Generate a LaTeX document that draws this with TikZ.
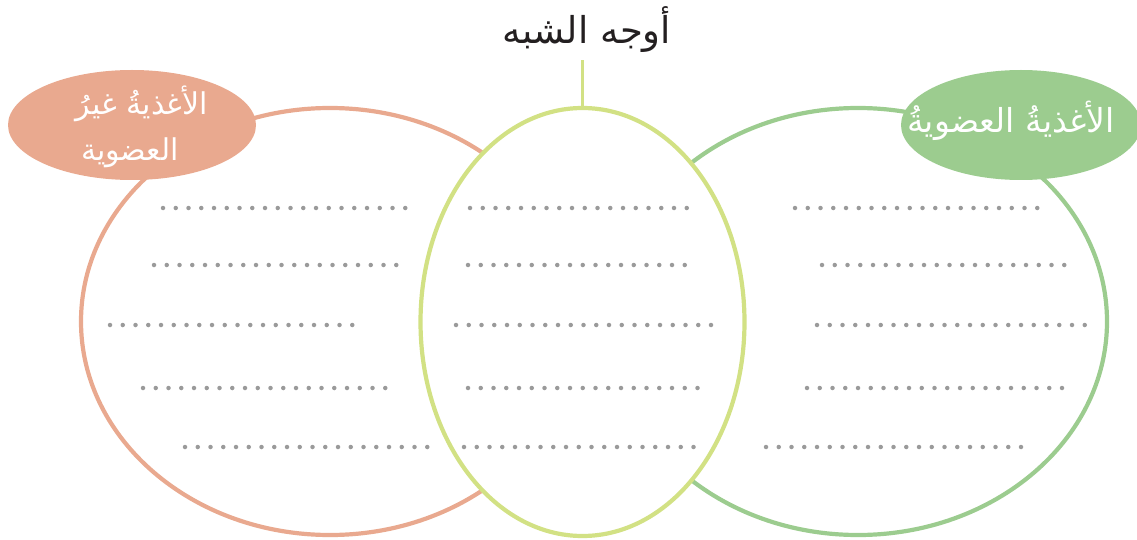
\documentclass[tikz,border=0pt]{standalone}
\usepackage{fontspec}
\usetikzlibrary{shapes.geometric}
\newfontfamily\arabicfont[Script=Arabic]{DejaVu Sans}
\TeXXeTstate=1
\definecolor{salmon}{HTML}{E9A98F}
\definecolor{leaf}{HTML}{9CCC8F}
\definecolor{lime}{HTML}{D2E184}
\definecolor{dotgray}{HTML}{9A9A9A}
\definecolor{ink}{HTML}{231F20}
\tikzset{
  bigell/.style={ellipse, inner sep=0pt},
  rim/.style={line width=4.2pt},
  labell/.style={ellipse, inner sep=0pt},
  labtext/.style={text=white, inner sep=0pt},
  dotrow/.style={dotgray, line width=4.5pt, line cap=round, dash pattern=on 0pt off 12.75pt}
}
\begin{document}
\begin{tikzpicture}[x=1pt,y=-1pt]
\useasboundingbox (0,0) rectangle (1137,540);
\node[bigell, minimum width=498pt, minimum height=427pt] (L) at (330,321.5) {};
\draw[rim, salmon] (L.center) ellipse [x radius=249pt, y radius=213.5pt];
\node[bigell, minimum width=498pt, minimum height=427pt] (R) at (858,321.5) {};
\draw[rim, leaf] (R.center) ellipse [x radius=249pt, y radius=213.5pt];
\node[labell, fill=salmon, minimum width=248pt, minimum height=110pt] (LL) at (132,125) {};
\node[labtext, font=\arabicfont\fontsize{30}{36}\selectfont] (LL1) at (142,104) {\beginR الأغذيةُ غيرُ\endR};
\node[labtext, font=\arabicfont\fontsize{30}{36}\selectfont] (LL2) at (130,153) {\beginR العضوية\endR};
\node[labell, fill=leaf, minimum width=240pt, minimum height=110pt] (RL) at (1021,125) {};
\node[labtext, font=\arabicfont\fontsize{33}{40}\selectfont] (RL1) at (1011,121) {\beginR الأغذيةُ العضويةُ\endR};
\node[bigell, minimum width=324pt, minimum height=428pt] (M) at (582.5,322) {};
\draw[rim, lime, fill=white] (M.center) ellipse [x radius=162pt, y radius=214pt];
\node[text=ink, font=\arabicfont\fontsize{37}{42}\selectfont] (T) at (587,30) {\beginR أوجه الشبه\endR};
\coordinate (Ttop) at (582.5,60);
\draw[lime, line width=3pt] (M.north) -- (Ttop);
% dotted writing lines
\draw[dotrow] (163,208) -- (410,208);
\draw[dotrow] (154,265) -- (401,265);
\draw[dotrow] (110,325) -- (357,325);
\draw[dotrow] (143,388) -- (390,388);
\draw[dotrow] (185,447) -- (432,447);
\draw[dotrow] (470,208) -- (691,208);
\draw[dotrow] (468,265) -- (689,265);
\draw[dotrow] (456,325) -- (716,325);
\draw[dotrow] (468,388) -- (703,388);
\draw[dotrow] (464,447) -- (698,447);
\draw[dotrow] (795,208) -- (1042,208);
\draw[dotrow] (822,265) -- (1069,265);
\draw[dotrow] (817,325) -- (1090,325);
\draw[dotrow] (807,388) -- (1066,388);
\draw[dotrow] (766,447) -- (1025,447);
\end{tikzpicture}
\end{document}
